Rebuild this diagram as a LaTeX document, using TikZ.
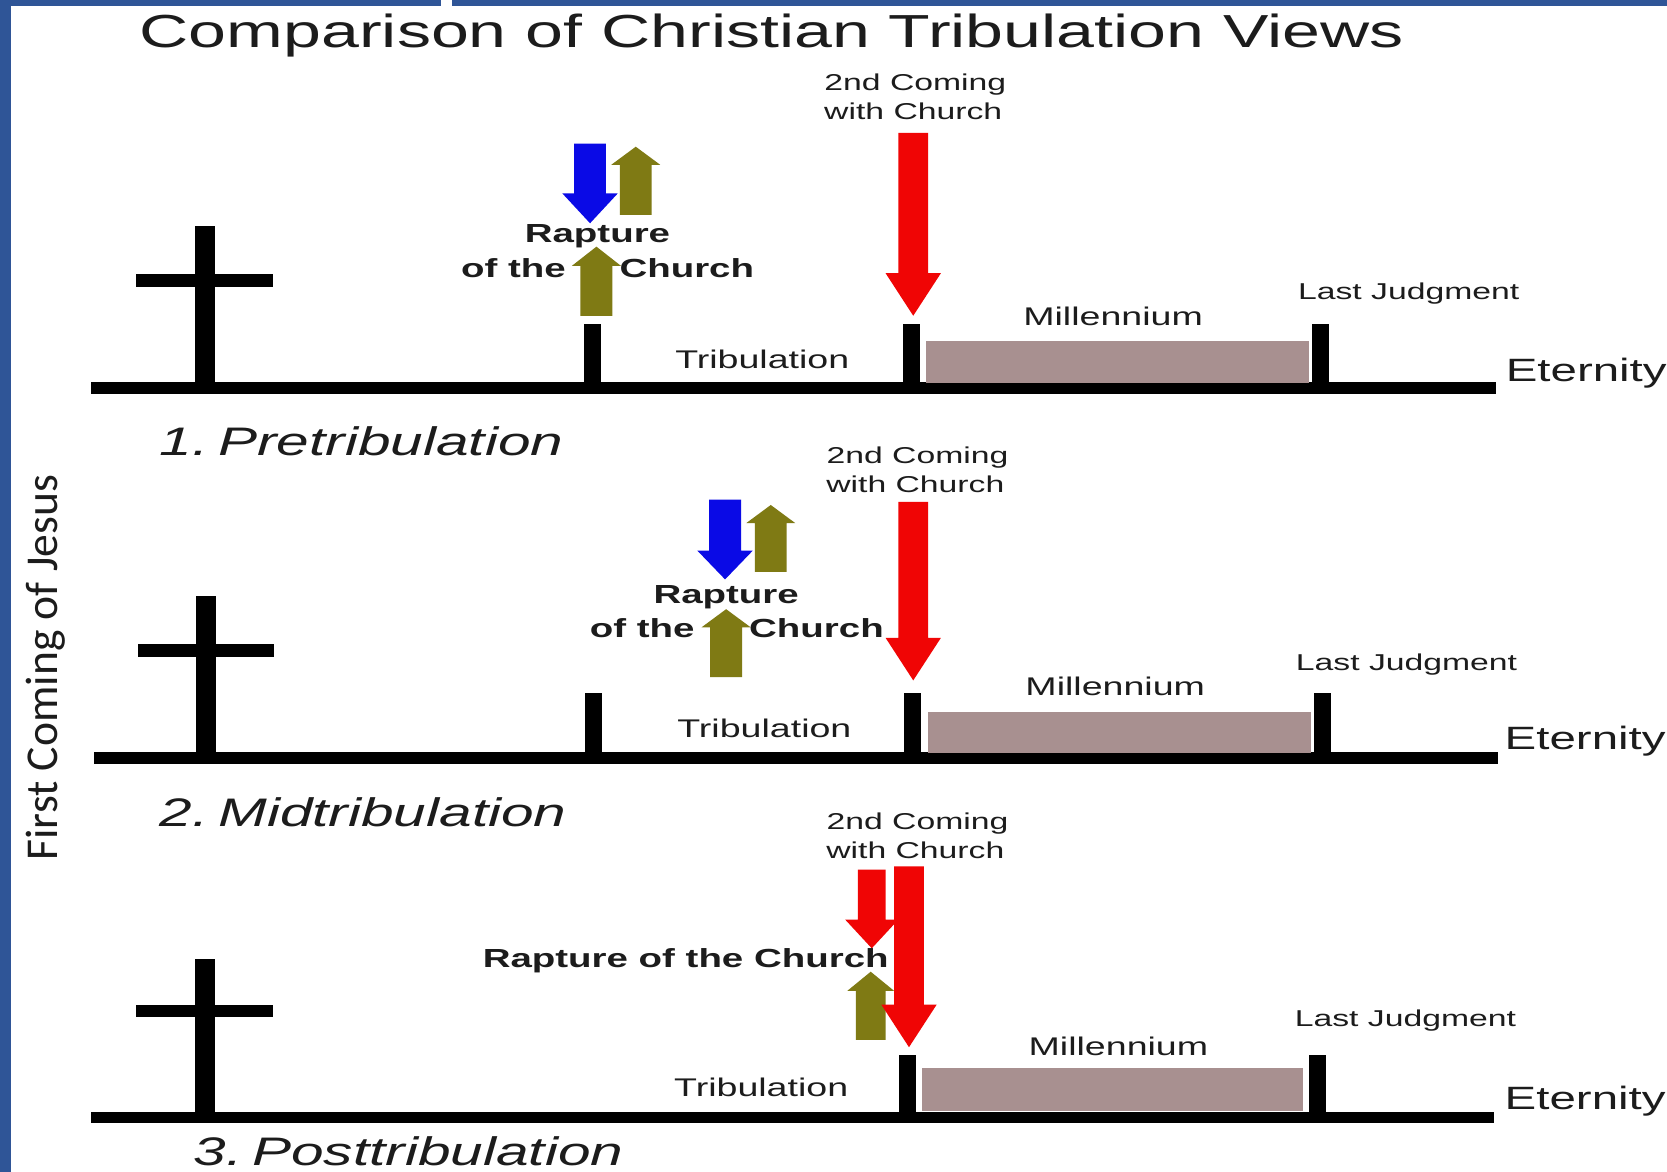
\documentclass[tikz,border=0pt]{standalone}
\usepackage{fontspec}
\setmainfont[FakeStretch=1.47]{Liberation Sans}
\newfontfamily\firstfont{Carlito}
\definecolor{framblue}{HTML}{2F5597}
\definecolor{olv}{HTML}{7F7A14}
\definecolor{blu}{HTML}{0A0AE6}
\definecolor{rd}{HTML}{F00505}
\definecolor{mauve}{HTML}{A89090}
\definecolor{ink}{HTML}{1C1C1C}
\newcommand{\fs}[1]{\fontsize{#1}{#1}\selectfont}
\newcommand{\tightsp}{\hspace*{-0.16em}}
\tikzset{
  x=0.05cm,y=-0.05cm,
  lbl/.style={text=ink,inner sep=0pt,font=\fs{34.2}},
  evt/.style={text=ink,inner sep=0pt,font=\fs{30.7}},
  rap/.style={text=ink,inner sep=0pt,font=\fs{35}\bfseries},
  etern/.style={text=ink,inner sep=0pt,font=\fs{43.2}},
  viewname/.style={text=ink,inner sep=0pt,anchor=west,font=\fs{53.3}\itshape},
}
% x, tail y, head-base y, tip y, shaft half, head half, colour
\newcommand{\blockarrow}[7]{\fill[#7] ({#1-#5},#2) -- ({#1+#5},#2) -- ({#1+#5},#3) -- ({#1+#6},#3) -- (#1,#4) -- ({#1-#6},#3) -- ({#1-#5},#3) -- cycle;}
% cross x, top, cross-bar y, bar left, bar right, baseline y, line left, line right
\newcommand{\timeline}[8]{%
  \fill[black] ({#7},{#6-5.5}) rectangle ({#8},{#6+5.5});
  \fill[black] ({#1-9.5},#2) rectangle ({#1+9.5},#6);
  \fill[black] (#4,{#3-6}) rectangle (#5,{#3+6});
}
\newcommand{\tick}[3]{\fill[black] ({#1-8},#2) rectangle ({#1+8},#3);}
\begin{document}
\begin{tikzpicture}
\useasboundingbox (0,0) rectangle (1568,1102);
\clip (0,0) rectangle (1568,1102);
\fill[white] (0,0) rectangle (1568,1102);
\fill[framblue] (0,0) rectangle (10.5,1102);
\fill[framblue] (0,0) rectangle (415,5.6);
\fill[framblue] (425,0) rectangle (1568,5.6);

\node[text=ink,inner sep=0pt,font=\fs{62}] (title) at (726,33) {Comparison of Christian Tribulation Views};
\node[text=ink,inner sep=0pt,rotate=90,font=\firstfont\fs{61}] (first) at (43,628) {First Coming of Jesus};

% Panel 1
\timeline{193}{213}{264}{128}{257}{365}{86}{1407}
\tick{557}{305}{365}
\tick{857}{305}{365}
\fill[mauve] (871,321) rectangle (1231,360);
\tick{1242}{305}{365}
\blockarrow{555}{135}{182}{210}{15}{26}{blu}
\blockarrow{598}{202}{155}{138}{15}{23}{olv}
\blockarrow{561}{297}{250}{232}{15}{23}{olv}
\blockarrow{859}{125}{257}{297}{14}{26}{rd}
\node[evt] (c1a) at (861,80) {2nd Coming};
\node[evt] (c1b) at (859,105) {with Church};
\node[rap] (r1a) at (562,222) {Rapture};
\node[rap] (r1b) at (483,252) {of the};
\node[rap] (r1c) at (646,252) {Church};
\node[lbl] (t1) at (717,338) {Tribulation};
\node[lbl] (m1) at (1047,298) {Millennium};
\node[evt] (l1) at (1325,276) {Last Judgment};
\node[etern] (e1) at (1492,351) {Eternity};
\node[viewname] (v1) at (150,415) {1.\tightsp{} Pretribulation};

% Panel 2
\timeline{194}{561}{612}{130}{258}{713}{88}{1409}
\tick{558}{652}{713}
\tick{858}{652}{713}
\fill[mauve] (873,670) rectangle (1233,708);
\tick{1244}{652}{713}
\blockarrow{682}{470}{518}{545}{15}{26}{blu}
\blockarrow{725}{538}{492}{475}{15}{23}{olv}
\blockarrow{683}{637}{590}{573}{15}{23}{olv}
\blockarrow{859}{472}{600}{640}{14}{26}{rd}
\node[evt] (c2a) at (863,430) {2nd Coming};
\node[evt] (c2b) at (861,456) {with Church};
\node[rap] (r2a) at (683,562) {Rapture};
\node[rap] (r2b) at (604,591) {of the};
\node[rap] (r2c) at (768,591) {Church};
\node[lbl] (t2) at (719,685) {Tribulation};
\node[lbl] (m2) at (1049,646) {Millennium};
\node[evt] (l2) at (1323,625) {Last Judgment};
\node[etern] (e2) at (1491,697) {Eternity};
\node[viewname] (v2) at (150,764) {2.\tightsp{} Midtribulation};

% Panel 3
\timeline{193}{902}{951}{128}{257}{1051}{86}{1405}
\tick{854}{992}{1051}
\fill[mauve] (867,1005) rectangle (1226,1045);
\tick{1239}{992}{1051}
\blockarrow{820}{818}{865}{892}{13}{25}{rd}
\blockarrow{819}{978}{932}{914}{14}{22}{olv}
\blockarrow{855}{815}{945}{985}{14}{26}{rd}
\node[evt] (c3a) at (863,775) {2nd Coming};
\node[evt] (c3b) at (861,800) {with Church};
\node[rap] (r3) at (645,904) {Rapture of the Church};
\node[lbl] (t3) at (716,1023) {Tribulation};
\node[lbl] (m3) at (1052,984) {Millennium};
\node[evt] (l3) at (1322,960) {Last Judgment};
\node[etern] (e3) at (1491,1036) {Eternity};
\node[viewname] (v3) at (182,1083) {3.\tightsp{} Posttribulation};
\end{tikzpicture}
\end{document}
